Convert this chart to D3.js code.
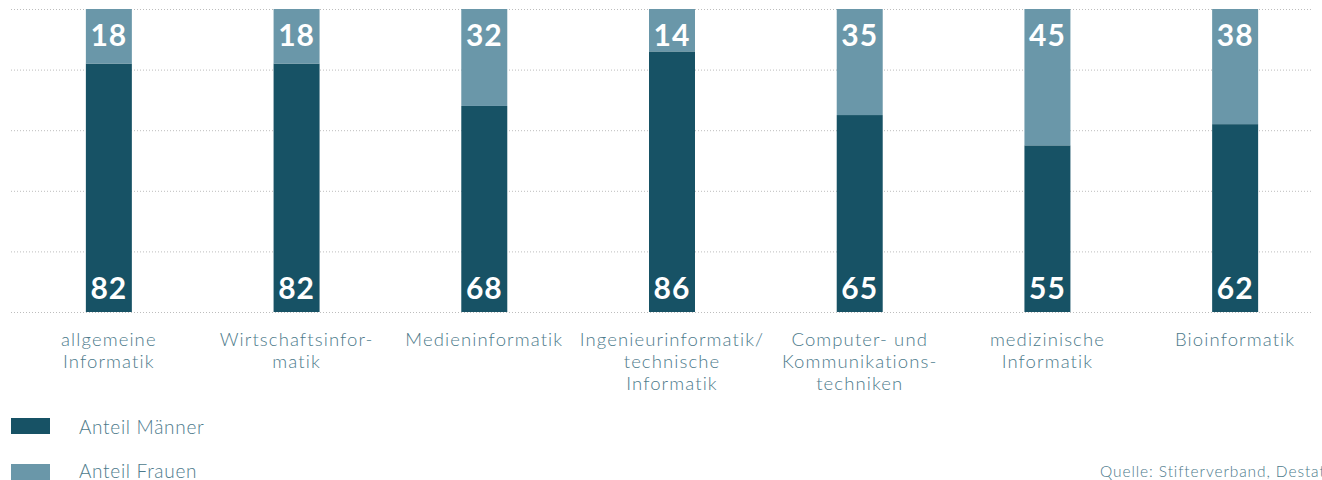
<!DOCTYPE html>
<html>
<head>
<meta charset="utf-8">
<script src="https://cdn.jsdelivr.net/npm/d3@7"></script>
<style>
  body { margin: 0; background: #fff; }
  svg { display: block; }
</style>
</head>
<body>
<div id="chart"></div>
<script>
// data
const categories = [
    ["allgemeine", "Informatik"],
    ["Wirtschaftsinfor-", "matik"],
    ["Medieninformatik"],
    ["Ingenieurinformatik/", "technische", "Informatik"],
    ["Computer- und", "Kommunikations-", "techniken"],
    ["medizinische", "Informatik"],
    ["Bioinformatik"]
];
const maenner = [82, 82, 68, 86, 65, 55, 62];
const frauen = [18, 18, 32, 14, 35, 45, 38];
const yTicks = [0, 20, 40, 60, 80, 100];
const legendLabels = ["Anteil Männer", "Anteil Frauen"];
const source = "Quelle: Stifterverband, Destatis";

const W = 1322, H = 480;
const dark = "#175265", light = "#6a97a9", textCol = "#4d7a8b";

const svg = d3.select("#chart")
    .append("svg")
    .attr("width", W)
    .attr("height", H);

const x = d3.scaleBand()
    .domain(d3.range(categories.length))
    .range([15, 1329])
    .paddingInner(0.755)
    .paddingOuter(0.3775);

const y = d3.scaleLinear()
    .domain([0, 100])
    .range([312, 9]);

// grid
svg.append("g")
    .selectAll("line")
    .data(yTicks)
    .enter().append("line")
    .attr("x1", 11)
    .attr("x2", 1312)
    .attr("y1", d => y(d) + 0.5)
    .attr("y2", d => y(d) + 0.5)
    .attr("stroke", "#bdbdbd")
    .attr("stroke-width", 1)
    .attr("stroke-dasharray", "1,2");

const bars = svg.append("g")
    .selectAll("g")
    .data(categories.map((c, i) => ({ i: i, m: maenner[i], f: frauen[i] })))
    .enter().append("g");

bars.append("rect")
    .attr("x", d => x(d.i))
    .attr("width", x.bandwidth())
    .attr("y", d => y(d.m))
    .attr("height", d => y(0) - y(d.m))
    .attr("fill", dark);

bars.append("rect")
    .attr("x", d => x(d.i))
    .attr("width", x.bandwidth())
    .attr("y", d => y(d.m + d.f))
    .attr("height", d => y(d.m) - y(d.m + d.f))
    .attr("fill", light);

// value labels
bars.append("text")
    .attr("x", d => x(d.i) + x.bandwidth() / 2)
    .attr("y", y(0) - 13)
    .attr("text-anchor", "middle")
    .style("font-family", "Lato, sans-serif")
    .style("font-weight", 700)
    .style("font-size", "30px")
    .style("letter-spacing", "1px")
    .attr("fill", "#fff")
    .text(d => d.m);

bars.append("text")
    .attr("x", d => x(d.i) + x.bandwidth() / 2)
    .attr("y", d => y(d.m + d.f) + 37)
    .attr("text-anchor", "middle")
    .style("font-family", "Lato, sans-serif")
    .style("font-weight", 700)
    .style("font-size", "30px")
    .style("letter-spacing", "1px")
    .attr("fill", "#fff")
    .text(d => d.f);

// category labels
const catLabels = svg.append("g")
    .selectAll("text")
    .data(categories)
    .enter().append("text")
    .attr("x", (d, i) => x(i) + x.bandwidth() / 2)
    .attr("y", 346)
    .attr("text-anchor", "middle")
    .style("font-family", "Lato, sans-serif")
    .style("font-weight", 300)
    .style("font-size", "18.5px")
    .style("letter-spacing", "1.1px")
    .attr("fill", textCol);

catLabels.selectAll("tspan")
    .data(d => d)
    .enter().append("tspan")
    .attr("x", function () { return d3.select(this.parentNode).attr("x"); })
    .attr("dy", (d, i) => i === 0 ? 0 : 22)
    .text(d => d);

// legend
const legend = svg.append("g")
    .selectAll("g")
    .data(legendLabels)
    .enter().append("g")
    .attr("transform", (d, i) => `translate(11, ${418 + i * 46})`);

legend.append("rect")
    .attr("width", 39)
    .attr("height", 16)
    .attr("fill", (d, i) => i === 0 ? dark : light);

legend.append("text")
    .attr("x", 68)
    .attr("y", (d, i) => i === 0 ? 16 : 14)
    .style("font-family", "Lato, sans-serif")
    .style("font-weight", 300)
    .style("font-size", "19px")
    .style("letter-spacing", "0.7px")
    .attr("fill", textCol)
    .text(d => d);

svg.append("text")
    .attr("x", 1100)
    .attr("y", 477)
    .style("font-family", "Lato, sans-serif")
    .style("font-weight", 300)
    .style("font-size", "15.5px")
    .style("letter-spacing", "0.9px")
    .attr("fill", textCol)
    .text(source);
</script>
</body>
</html>
